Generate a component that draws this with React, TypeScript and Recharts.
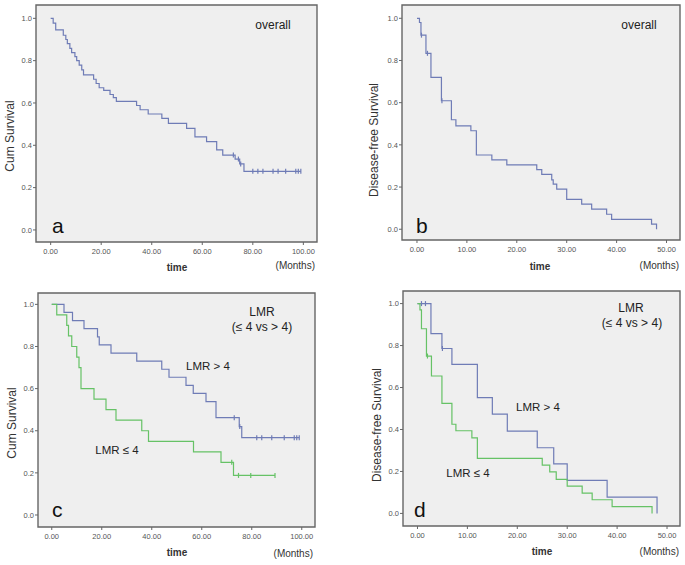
import { ComposedChart, Line, XAxis, YAxis, ReferenceArea } from "recharts"

// overall survival (a)
const osTime = [0, 1, 2, 5, 6, 6.6, 7.6, 8.3, 9.6, 10.3, 11.3, 12.3, 13, 17, 18, 19.2, 21, 23.5, 24.8, 26, 34, 35.4, 38.6, 44, 46.6, 53.8, 57.1, 61.7, 65.7, 68.1, 73, 74.8, 76.5]
const osSurv = [1, 0.977, 0.945, 0.92, 0.9, 0.88, 0.858, 0.838, 0.819, 0.8, 0.779, 0.756, 0.733, 0.712, 0.692, 0.672, 0.66, 0.64, 0.625, 0.608, 0.588, 0.568, 0.548, 0.527, 0.504, 0.48, 0.44, 0.417, 0.378, 0.354, 0.335, 0.312, 0.277]
const osCensor = [72.3, 74.3, 75.2, 80, 82, 84, 88, 90, 93, 97, 98, 99]

// disease-free survival (b)
const dfsTime = [0, 0.5, 0.8, 1.8, 2.8, 4.9, 6.9, 7.8, 10.8, 11.9, 15, 18, 24, 25, 27, 27.3, 28, 30, 33, 35, 38, 39, 47, 48]
const dfsSurv = [1, 0.98, 0.92, 0.834, 0.72, 0.609, 0.519, 0.49, 0.467, 0.352, 0.329, 0.305, 0.283, 0.26, 0.234, 0.214, 0.19, 0.142, 0.119, 0.095, 0.071, 0.047, 0.024, 0]
const dfsCensor = [0.9, 2.1, 5.0]

// OS by LMR (c)
const osHighTime = [0, 4.9, 8.3, 12.9, 18.3, 19, 23.7, 34, 44, 46.9, 53.7, 56.6, 61.7, 65.7, 75, 76]
const osHighSurv = [1, 0.962, 0.923, 0.885, 0.846, 0.808, 0.769, 0.731, 0.692, 0.654, 0.615, 0.577, 0.538, 0.462, 0.42, 0.367]
const osHighCensor = [73, 75.2, 82, 84, 88, 93, 97, 98, 99]
const osLowTime = [0, 2, 6, 6.7, 8, 10, 10.9, 11.7, 16.9, 21.7, 25.7, 36, 38.7, 56.7, 67.7, 72.7]
const osLowSurv = [1, 0.95, 0.9, 0.85, 0.8, 0.75, 0.7, 0.6, 0.55, 0.5, 0.45, 0.4, 0.35, 0.3, 0.25, 0.188]
const osLowCensor = [72, 74.7, 79.6, 89.3]

// DFS by LMR (d)
const dfsHighTime = [0, 2.7, 4.9, 6.9, 12, 15, 18, 24, 27.3, 30, 38, 48]
const dfsHighSurv = [1, 0.857, 0.786, 0.71, 0.552, 0.473, 0.392, 0.313, 0.236, 0.157, 0.078, 0]
const dfsHighCensor = [0.8, 1.6, 5.0]
const dfsLowTime = [0, 0.5, 0.8, 1.8, 2.8, 4.9, 6.9, 7.7, 10.9, 12, 25, 26.5, 27.8, 30, 33, 35, 39, 47]
const dfsLowSurv = [1, 0.97, 0.88, 0.75, 0.655, 0.524, 0.425, 0.394, 0.36, 0.262, 0.23, 0.198, 0.162, 0.13, 0.097, 0.065, 0.032, 0]
const dfsLowCensor = [2.0]

const yTicks = [0, 0.2, 0.4, 0.6, 0.8, 1.0]
const xTicks100 = [0, 20, 40, 60, 80, 100]
const xTicks50 = [0, 10, 20, 30, 40, 50]

const BLUE = "#6f7cb6"
const GREEN = "#66c266"
const FONT = "'Liberation Sans', Arial, sans-serif"

type Pt = { t: number; s: number; censored: boolean }

function buildCurve(times: number[], surv: number[], censor: number[]): Pt[] {
  const pts: Pt[] = times.map((t, i) => ({ t, s: surv[i], censored: false }))
  censor.forEach((c) => {
    let s = surv[0]
    times.forEach((t, i) => {
      if (t <= c) s = surv[i]
    })
    pts.push({ t: c, s, censored: true })
  })
  return pts.sort((a, b) => a.t - b.t)
}

const censorDot = (color: string) => (props: any) => {
  const { cx, cy, payload, index } = props
  if (!payload || !payload.censored) return <g key={`d${index}`} />
  return <line key={`d${index}`} x1={cx} x2={cx} y1={cy - 2.5} y2={cy + 2.5} stroke={color} strokeWidth={1.2} />
}

interface Series {
  data: Pt[]
  color: string
}

interface PanelProps {
  box: [number, number, number, number] // left, top, width, height
  plot: [number, number, number, number] // x0, y0, x1, y1 (page px)
  xDomain: [number, number]
  yDomain: [number, number]
  xTicks: number[]
  series: Series[]
}

function Panel({ box, plot, xDomain, yDomain, xTicks, series }: PanelProps) {
  const [left, top, width, height] = box
  const yAxisW = 30
  const xAxisH = 20
  const margin = {
    left: plot[0] - left - yAxisW,
    top: plot[1] - top,
    right: left + width - plot[2],
    bottom: top + height - plot[3] - xAxisH,
  }
  const tickStyle = { fontSize: 7.5, fill: "#555", fontFamily: FONT }
  return (
    <div style={{ position: "absolute", left, top, width, height }}>
      <ComposedChart width={width} height={height} margin={margin}>
        <ReferenceArea
          x1={xDomain[0]}
          x2={xDomain[1]}
          y1={yDomain[0]}
          y2={yDomain[1]}
          fill="#efefef"
          fillOpacity={1}
          stroke="#666"
          strokeWidth={1.4}
        />
        <XAxis
          dataKey="t"
          type="number"
          domain={xDomain}
          ticks={xTicks}
          allowDataOverflow
          height={xAxisH}
          axisLine={false}
          tickSize={3}
          tickMargin={4}
          tickLine={{ stroke: "#666" }}
          tick={tickStyle}
          tickFormatter={(v: number) => v.toFixed(2)}
        />
        <YAxis
          type="number"
          domain={yDomain}
          ticks={yTicks}
          allowDataOverflow
          width={yAxisW}
          axisLine={false}
          tickSize={3}
          tickMargin={1}
          tickLine={{ stroke: "#666" }}
          tick={tickStyle}
          tickFormatter={(v: number) => v.toFixed(1)}
        />
        {series.map((sr, i) => (
          <Line
            key={i}
            data={sr.data}
            dataKey="s"
            type="stepAfter"
            stroke={sr.color}
            strokeWidth={1.2}
            dot={censorDot(sr.color)}
            activeDot={false}
            isAnimationActive={false}
          />
        ))}
      </ComposedChart>
    </div>
  )
}

function Annotations() {
  const t = { fontFamily: FONT, fill: "#222" }
  const axisTitle = { fontFamily: FONT, fill: "#333", fontSize: 12 }
  const small = { fontFamily: FONT, fill: "#333", fontSize: 10 }
  const letter = { fontFamily: FONT, fill: "#111", fontSize: 21 }
  return (
    <svg width={685} height={565} style={{ position: "absolute", left: 0, top: 0, pointerEvents: "none" }}>
      {/* y axis titles */}
      <text {...axisTitle} textAnchor="middle" transform="translate(14,136) rotate(-90)">Cum Survival</text>
      <text {...axisTitle} textAnchor="middle" transform="translate(378,140) rotate(-90)">Disease-free Survival</text>
      <text {...axisTitle} textAnchor="middle" transform="translate(16,423) rotate(-90)">Cum Survival</text>
      <text {...axisTitle} textAnchor="middle" transform="translate(381,425) rotate(-90)">Disease-free Survival</text>

      {/* x axis titles */}
      <text {...small} fontWeight="bold" textAnchor="middle" x={177} y={271}>time</text>
      <text {...small} textAnchor="end" x={315} y={269}>(Months)</text>
      <text {...small} fontWeight="bold" textAnchor="middle" x={540} y={270}>time</text>
      <text {...small} textAnchor="end" x={679} y={269}>(Months)</text>
      <text {...small} fontWeight="bold" textAnchor="middle" x={177} y={556}>time</text>
      <text {...small} textAnchor="end" x={313} y={557}>(Months)</text>
      <text {...small} fontWeight="bold" textAnchor="middle" x={542} y={555}>time</text>
      <text {...small} textAnchor="end" x={679} y={555}>(Months)</text>

      {/* panel letters */}
      <text {...letter} x={52} y={233}>a</text>
      <text {...letter} x={416} y={233}>b</text>
      <text {...letter} x={52} y={517}>c</text>
      <text {...letter} x={414} y={517}>d</text>

      {/* in-plot labels */}
      <text {...t} fontSize={12} textAnchor="middle" x={273} y={29}>overall</text>
      <text {...t} fontSize={12} textAnchor="middle" x={639} y={29}>overall</text>

      <text {...t} fontSize={12} textAnchor="middle" x={262} y={316}>LMR</text>
      <text {...t} fontSize={12} textAnchor="middle" x={262} y={331}>(≤ 4 vs &gt; 4)</text>
      <text {...t} fontSize={11.5} textAnchor="middle" x={208} y={370}>LMR &gt; 4</text>
      <text {...t} fontSize={11.5} textAnchor="middle" x={117} y={454}>LMR ≤ 4</text>

      <text {...t} fontSize={12} textAnchor="middle" x={631} y={312}>LMR</text>
      <text {...t} fontSize={12} textAnchor="middle" x={632} y={327}>(≤ 4 vs &gt; 4)</text>
      <text {...t} fontSize={11.5} textAnchor="middle" x={538} y={411}>LMR &gt; 4</text>
      <text {...t} fontSize={11.5} textAnchor="middle" x={468} y={477}>LMR ≤ 4</text>
    </svg>
  )
}

export default function App() {
  const os = buildCurve(osTime, osSurv, osCensor)
  const dfs = buildCurve(dfsTime, dfsSurv, dfsCensor)
  const osHigh = buildCurve(osHighTime, osHighSurv, osHighCensor)
  const osLow = buildCurve(osLowTime, osLowSurv, osLowCensor)
  const dfsHigh = buildCurve(dfsHighTime, dfsHighSurv, dfsHighCensor)
  const dfsLow = buildCurve(dfsLowTime, dfsLowSurv, dfsLowCensor)

  return (
    <div style={{ position: "absolute", left: 0, top: 0, width: 685, height: 565, background: "#fff" }}>
      <Panel
        box={[0, 0, 345, 282]}
        plot={[36, 5, 317, 242]}
        xDomain={[-5.8, 105.4]}
        yDomain={[-0.057, 1.063]}
        xTicks={xTicks100}
        series={[{ data: os, color: BLUE }]}
      />
      <Panel
        box={[345, 0, 340, 282]}
        plot={[402, 5, 680, 240]}
        xDomain={[-3, 52.7]}
        yDomain={[-0.051, 1.063]}
        xTicks={xTicks50}
        series={[{ data: dfs, color: BLUE }]}
      />
      <Panel
        box={[0, 282, 345, 283]}
        plot={[38, 293, 315, 527]}
        xDomain={[-5.5, 105.3]}
        yDomain={[-0.057, 1.054]}
        xTicks={xTicks100}
        series={[
          { data: osHigh, color: BLUE },
          { data: osLow, color: GREEN },
        ]}
      />
      <Panel
        box={[345, 282, 340, 283]}
        plot={[403, 291, 680, 526]}
        xDomain={[-2.9, 52.6]}
        yDomain={[-0.06, 1.06]}
        xTicks={xTicks50}
        series={[
          { data: dfsHigh, color: BLUE },
          { data: dfsLow, color: GREEN },
        ]}
      />
      <Annotations />
    </div>
  )
}
